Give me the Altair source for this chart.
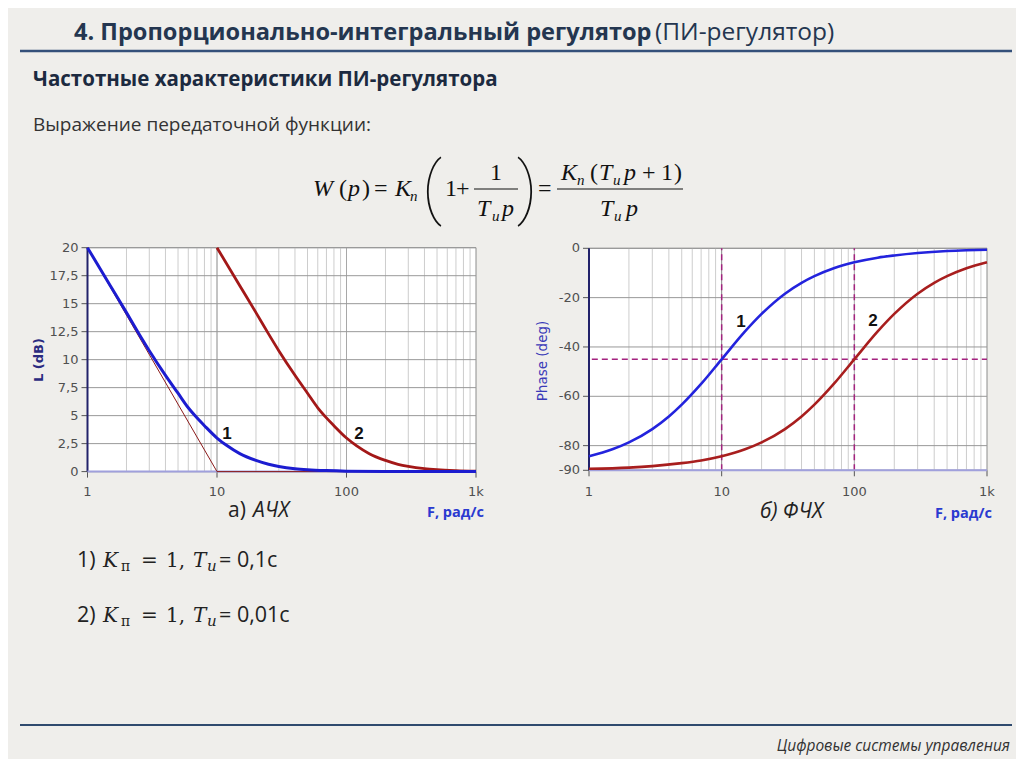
import altair as alt
import pandas as pd

# ---------------- data ----------------
AMP_F1 = [1, 1.5, 2, 2.5, 3, 4, 5, 6, 7, 8, 10, 12, 15, 20, 25, 30, 40, 50, 70, 100, 200, 500, 1000]
AMP_L1 = [20.0, 16.6, 14.2, 12.3, 10.8, 8.6, 7.0, 5.7, 4.8, 4.1, 3.0, 2.3, 1.6, 1.0, 0.65, 0.46,
          0.26, 0.17, 0.09, 0.04, 0.01, 0.0, 0.0]
AMP_F2 = [10, 15, 20, 25, 30, 40, 50, 60, 70, 80, 100, 120, 150, 200, 250, 300, 400, 500, 700, 1000]
AMP_L2 = [20.0, 16.6, 14.2, 12.3, 10.8, 8.6, 7.0, 5.7, 4.8, 4.1, 3.0, 2.3, 1.6, 1.0, 0.65, 0.46,
          0.26, 0.17, 0.09, 0.04]
ASYM_F = [1, 10, 1000]
ASYM_L = [20, 0, 0]

PH_F1 = [1, 1.5, 2, 3, 4, 5, 7, 10, 15, 20, 30, 40, 50, 70, 100, 150, 200, 300, 500, 700, 1000]
PH_P1 = [-84.3, -81.5, -78.7, -73.3, -68.2, -63.4, -55.0, -45.0, -33.7, -26.6, -18.4, -14.0,
         -11.3, -8.1, -5.7, -3.8, -2.9, -1.9, -1.1, -0.8, -0.6]
PH_F2 = [1, 2, 3, 5, 7, 10, 15, 20, 30, 40, 50, 70, 100, 150, 200, 300, 400, 500, 700, 1000]
PH_P2 = [-89.4, -88.9, -88.3, -87.1, -86.0, -84.3, -81.5, -78.7, -73.3, -68.2, -63.4, -55.0,
         -45.0, -33.7, -26.6, -18.4, -14.0, -11.3, -8.1, -5.7]

X_TICKS = [1, 10, 100, 1000]
X_TICK_LABELS = ["1", "10", "100", "1k"]
X_MINOR = [2, 3, 4, 5, 6, 7, 8, 9, 20, 30, 40, 50, 60, 70, 80, 90,
           200, 300, 400, 500, 600, 700, 800, 900]
X_DARK_GRID = [10]
X_MID_GRID = [100]
L_TICKS = [0, 2.5, 5, 7.5, 10, 12.5, 15, 17.5, 20]
L_TICK_LABELS = ["0", "2,5", "5", "7,5", "10", "12,5", "15", "17,5", "20"]
PH_TICKS = [0, -20, -40, -60, -80, -90]
PH_TICK_LABELS = ["0", "-20", "-40", "-60", "-80", "-90"]
PH_MARK_F = [10, 100]
PH_MARK_DEG = [-45]

TITLE_BOLD = "4. Пропорционально-интегральный регулятор"
TITLE_NORM = "(ПИ-регулятор)"
SUBTITLE = "Частотные характеристики ПИ-регулятора"
EXPR = "Выражение передаточной функции:"
FOOTER = "Цифровые системы управления"
AXIS_F = "F, рад/с"
AMP_YT = "L (dB)"
PH_YT = "Phase (deg)"

# ---------------- helpers ----------------
def P(v):
    return v - 8  # page pixel -> chart pixel

SANS = "Open Sans"
SERIF = "Liberation Serif"
TICKF = "DejaVu Sans"
one = pd.DataFrame({"t": [""]})
layers = []

def txt(s, x, y, size, font=SANS, weight="normal", style="normal", color="#222222",
        align="left", baseline="alphabetic", angle=0):
    kw = dict(align=align, baseline=baseline, font=font, fontSize=size,
              fontWeight=weight, fontStyle=style, color=color)
    if angle:
        kw["angle"] = angle
    layers.append(alt.Chart(pd.DataFrame({"t": [s]})).mark_text(**kw).encode(
        x=alt.value(P(x)), y=alt.value(P(y)), text="t:N"))

def hline(x1, x2, y, color, w):
    layers.append(alt.Chart(one).mark_rule(color=color, strokeWidth=w).encode(
        x=alt.value(P(x1)), x2=alt.value(P(x2)), y=alt.value(P(y))))

def panel(xs, ys, ymin, ymax, yticks, ylabels, xpix_left, ypix_bottom, extra, curves):
    X = lambda f: alt.X(f, type="quantitative", scale=xs, axis=None)
    Y = lambda f: alt.Y(f, type="quantitative", scale=ys, axis=None)
    bg = pd.DataFrame({"x": [1], "x2": [1000], "y": [ymin], "y2": [ymax]})
    layers.append(alt.Chart(bg).mark_rect(fill="white", stroke="#8c8c8c", strokeWidth=1).encode(
        x=X("x"), x2="x2", y=Y("y"), y2="y2"))
    for vals, col in [(X_MINOR, "#cdcdcd"), (X_MID_GRID, "#a8a8a8"), (X_DARK_GRID, "#888888")]:
        g = pd.DataFrame({"f": vals, "lo": ymin, "hi": ymax})
        layers.append(alt.Chart(g).mark_rule(color=col, strokeWidth=1).encode(
            x=X("f"), y=Y("lo"), y2="hi"))
    hg = pd.DataFrame({"v": yticks, "lo": 1, "hi": 1000})
    layers.append(alt.Chart(hg).mark_rule(color="#999999", strokeWidth=1).encode(
        y=Y("v"), x=X("lo"), x2="hi"))
    for e in extra:
        layers.append(e(X, Y))
    # ticks
    layers.append(alt.Chart(pd.DataFrame({"v": yticks})).mark_rule(color="#555555", strokeWidth=1).encode(
        y=Y("v"), x=alt.value(P(xpix_left) - 6), x2=alt.value(P(xpix_left))))
    layers.append(alt.Chart(pd.DataFrame({"f": X_TICKS})).mark_rule(color="#555555", strokeWidth=1).encode(
        x=X("f"), y=alt.value(P(ypix_bottom)), y2=alt.value(P(ypix_bottom) + 6)))
    # axis lines
    layers.append(alt.Chart(pd.DataFrame({"f": [1], "lo": [ymin], "hi": [ymax]})).mark_rule(
        color="#22226a", strokeWidth=2).encode(x=X("f"), y=Y("lo"), y2="hi"))
    layers.append(alt.Chart(pd.DataFrame({"v": [ymin], "lo": [1], "hi": [1000]})).mark_rule(
        color="#a0a0dc", strokeWidth=2).encode(y=Y("v"), x=X("lo"), x2="hi"))
    # labels
    layers.append(alt.Chart(pd.DataFrame({"v": yticks, "lab": ylabels})).mark_text(
        align="right", baseline="middle", font=TICKF, fontSize=13, color="#505050").encode(
        y=Y("v"), x=alt.value(P(xpix_left) - 9), text="lab:N"))
    layers.append(alt.Chart(pd.DataFrame({"f": X_TICKS, "lab": X_TICK_LABELS})).mark_text(
        align="center", baseline="alphabetic", font=TICKF, fontSize=13, color="#505050").encode(
        x=X("f"), y=alt.value(P(496)), text="lab:N"))
    for df, fx, fy, col, w, interp in curves:
        layers.append(alt.Chart(df).mark_line(color=col, strokeWidth=w, interpolate=interp).encode(
            x=X(fx), y=Y(fy)))

# ---------------- header ----------------
txt(TITLE_BOLD, 74, 40, 23.6, weight="bold", color="#243650")
txt(TITLE_NORM, 655, 40, 24.5, color="#243650")
hline(20, 1012, 51, "#34507a", 2.5)
txt(SUBTITLE, 33, 86, 20.5, weight="bold", color="#1c2a40")
txt(EXPR, 33, 131, 19, color="#333333")

# ---------------- formula ----------------
FS = 24
SUB = 15
INK = "#111111"
BIGP = dict(font="Roboto", weight=100, color=INK, align="center")
MB, NB, DB = 196, 180, 216   # main / numerator / denominator baselines
txt("W", 313, MB, FS, font=SERIF, style="italic", color=INK)
txt("(", 339, MB, FS, font=SERIF, color=INK)
txt("p", 348, MB, FS, font=SERIF, style="italic", color=INK)
txt(")", 362, MB, FS, font=SERIF, color=INK)
txt("=", 374, MB, FS, font=SERIF, color=INK)
txt("K", 395, MB, FS, font=SERIF, style="italic", color=INK)
txt("n", 410, MB + 5, SUB, font=SERIF, style="italic", color=INK)
txt("(", 432, 211, 68, **BIGP)
txt("1", 445, MB, FS, font=SERIF, color=INK)
txt("+", 456, MB, FS, font=SERIF, color=INK)
hline(474, 518, 189, INK, 1.2)
txt("1", 496, NB, FS, font=SERIF, color=INK, align="center")
txt("T", 477, DB, FS, font=SERIF, style="italic", color=INK)
txt("u", 492, DB + 5, SUB, font=SERIF, style="italic", color=INK)
txt("p", 502, DB, FS, font=SERIF, style="italic", color=INK)
txt(")", 527, 211, 68, **BIGP)
txt("=", 538, MB, FS, font=SERIF, color=INK)
hline(557, 683, 189, INK, 1.2)
txt("K", 561, NB, FS, font=SERIF, style="italic", color=INK)
txt("n", 577, NB + 5, SUB, font=SERIF, style="italic", color=INK)
txt("(", 590, NB, FS, font=SERIF, color=INK)
txt("T", 599, NB, FS, font=SERIF, style="italic", color=INK)
txt("u", 613, NB + 5, SUB, font=SERIF, style="italic", color=INK)
txt("p", 624, NB, FS, font=SERIF, style="italic", color=INK)
txt("+", 642, NB, FS, font=SERIF, color=INK)
txt("1", 661, NB, FS, font=SERIF, color=INK)
txt(")", 674, NB, FS, font=SERIF, color=INK)
txt("T", 600, DB, FS, font=SERIF, style="italic", color=INK)
txt("u", 614, DB + 5, SUB, font=SERIF, style="italic", color=INK)
txt("p", 626, DB, FS, font=SERIF, style="italic", color=INK)

# ---------------- left panel (АЧХ) ----------------
LXS = alt.Scale(type="log", domain=[1, 1000], range=[P(87.5), P(476)], nice=False)
LYS = alt.Scale(type="linear", domain=[0, 20], range=[P(471.6), P(247.7)], nice=False, zero=False)
amp1 = pd.DataFrame({"f": AMP_F1, "L": AMP_L1})
amp2 = pd.DataFrame({"f": AMP_F2, "L": AMP_L2})
asym = pd.DataFrame({"f": ASYM_F, "L": ASYM_L})
panel(LXS, LYS, 0, 20, L_TICKS, L_TICK_LABELS, 87.5, 471.6, [],
      [(asym, "f", "L", "#8b1a1a", 1, "linear"),
       (amp2, "f", "L", "#a31818", 2.8, "monotone"),
       (amp1, "f", "L", "#1c1cd0", 3, "monotone")])
txt("1", 227, 439, 17, font="Liberation Sans", weight="bold", color="#111111", align="center")
txt("2", 359, 439, 17, font="Liberation Sans", weight="bold", color="#111111", align="center")
txt(AMP_YT, 43, 360, 13, font=TICKF, weight="bold", color="#2a2a80", align="center", angle=270)
txt("а)", 228, 517, 21, color="#222222")
txt("АЧХ", 253, 517, 21, style="italic", color="#222222")
txt(AXIS_F, 427, 517, 14.5, weight="bold", color="#2a3ad0")

# ---------------- right panel (ФЧХ) ----------------
RXS = alt.Scale(type="log", domain=[1, 1000], range=[P(589), P(987)], nice=False)
RYS = alt.Scale(type="linear", domain=[-90, 0], range=[P(470.3), P(248.3)], nice=False, zero=False)
ph1 = pd.DataFrame({"f": PH_F1, "p": PH_P1})
ph2 = pd.DataFrame({"f": PH_F2, "p": PH_P2})

def dashed_v(X, Y):
    d = pd.DataFrame({"f": PH_MARK_F, "lo": -90, "hi": 0})
    return alt.Chart(d).mark_rule(color="#a3227f", strokeWidth=1.5, strokeDash=[6, 4]).encode(
        x=X("f"), y=Y("lo"), y2="hi")

def dashed_h(X, Y):
    d = pd.DataFrame({"v": PH_MARK_DEG, "lo": 1.05, "hi": 1000})
    return alt.Chart(d).mark_rule(color="#a3227f", strokeWidth=1.5, strokeDash=[6, 4]).encode(
        y=Y("v"), x=X("lo"), x2="hi")

panel(RXS, RYS, -90, 0, PH_TICKS, PH_TICK_LABELS, 589, 470.3, [dashed_v, dashed_h],
      [(ph2, "f", "p", "#a81e1e", 2.6, "monotone"), (ph1, "f", "p", "#2323dd", 2.6, "monotone")])
txt("1", 741, 327, 17, font="Liberation Sans", weight="bold", color="#111111", align="center")
txt("2", 873, 326, 17, font="Liberation Sans", weight="bold", color="#111111", align="center")
txt(PH_YT, 547, 361, 13.5, font=TICKF, color="#3a3ab8", align="center", angle=270)
txt("б) ФЧХ", 760, 518, 21, style="italic", color="#222222")
txt(AXIS_F, 935, 518, 14.5, weight="bold", color="#2a3ad0")

# ---------------- parameter lines ----------------
MATH = "DejaVu Serif"
for base, num, tval in [(567, "1)", "= 0,1с"), (622, "2)", "= 0,01с")]:
    txt(num, 77, base, 21.5, color="#222222")
    txt("K", 103, base, 20, font=MATH, style="italic", color="#222222")
    txt("п", 121, base + 4, 14, font=MATH, color="#222222")
    txt("=", 141, base, 20, font=MATH, color="#222222")
    txt("1,", 166, base, 20, font=MATH, color="#222222")
    txt("T", 193, base, 20, font=MATH, style="italic", color="#222222")
    txt("u", 207, base + 4, 15, font=MATH, style="italic", color="#222222")
    txt(tval, 219, base, 21.5, color="#222222")

# ---------------- footer ----------------
hline(20, 1012, 725, "#2f4a6e", 2)
txt(FOOTER, 1010, 751, 15.5, style="italic", color="#333333", align="right")

chart = alt.layer(*layers).resolve_scale(x="independent", y="independent").properties(
    width=1008, height=751, padding=0, autosize="none", background="#efeeeb"
).configure_view(stroke=None)

chart.save("out.html", embed_options={"renderer": "svg", "actions": False})
